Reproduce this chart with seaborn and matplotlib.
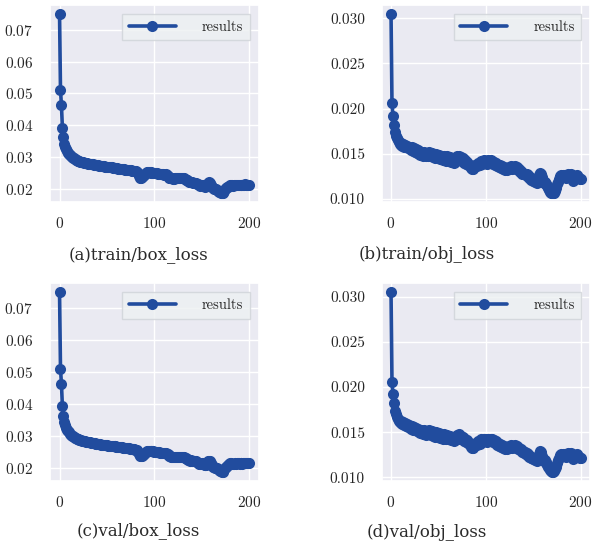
import numpy as np
import pandas as pd
import seaborn as sns
import matplotlib.pyplot as plt

# epochs 0..200
epochs = list(range(201))

box_loss = [
    0.0750, 0.0510, 0.0463, 0.0393, 0.0362, 0.0342, 0.0333, 0.0325, 0.0319, 0.0314,
    0.0310, 0.0306, 0.0303, 0.0300, 0.0298, 0.0296, 0.0294, 0.0292, 0.0291, 0.0289,
    0.0288, 0.0287, 0.0286, 0.0285, 0.0284, 0.0284, 0.0283, 0.0282, 0.0281, 0.0281,
    0.0280, 0.0279, 0.0279, 0.0278, 0.0277, 0.0277, 0.0276, 0.0276, 0.0275, 0.0275,
    0.0274, 0.0274, 0.0273, 0.0273, 0.0272, 0.0272, 0.0271, 0.0271, 0.0270, 0.0270,
    0.0270, 0.0269, 0.0269, 0.0268, 0.0268, 0.0268, 0.0267, 0.0267, 0.0266, 0.0266,
    0.0265, 0.0265, 0.0264, 0.0264, 0.0263, 0.0263, 0.0263, 0.0262, 0.0262, 0.0261,
    0.0261, 0.0260, 0.0260, 0.0260, 0.0259, 0.0259, 0.0258, 0.0258, 0.0257, 0.0257,
    0.0256, 0.0256, 0.0254, 0.0250, 0.0242, 0.0236, 0.0235, 0.0237, 0.0240, 0.0243,
    0.0247, 0.0250, 0.0252, 0.0253, 0.0253, 0.0252, 0.0252, 0.0251, 0.0251, 0.0251,
    0.0250, 0.0250, 0.0249, 0.0249, 0.0248, 0.0248, 0.0247, 0.0247, 0.0246, 0.0246,
    0.0245, 0.0245, 0.0246, 0.0244, 0.0241, 0.0238, 0.0236, 0.0235, 0.0234, 0.0233,
    0.0232, 0.0232, 0.0233, 0.0234, 0.0234, 0.0233, 0.0234, 0.0234, 0.0233, 0.0233,
    0.0234, 0.0233, 0.0231, 0.0229, 0.0228, 0.0227, 0.0225, 0.0223, 0.0222, 0.0223,
    0.0222, 0.0220, 0.0219, 0.0220, 0.0219, 0.0217, 0.0215, 0.0212, 0.0210, 0.0211,
    0.0213, 0.0214, 0.0212, 0.0209, 0.0207, 0.0208, 0.0212, 0.0219, 0.0222, 0.0220,
    0.0214, 0.0207, 0.0203, 0.0201, 0.0200, 0.0199, 0.0198, 0.0194, 0.0191, 0.0189,
    0.0188, 0.0187, 0.0186, 0.0189, 0.0195, 0.0200, 0.0202, 0.0205, 0.0207, 0.0210,
    0.0213, 0.0214, 0.0212, 0.0210, 0.0211, 0.0213, 0.0212, 0.0213, 0.0214, 0.0213,
    0.0212, 0.0214, 0.0213, 0.0212, 0.0214, 0.0213, 0.0215, 0.0214, 0.0213, 0.0214,
    0.0213,
]

obj_loss = [
    0.0305, 0.0206, 0.0192, 0.0182, 0.0174, 0.0170, 0.0167, 0.0165, 0.0163, 0.0161,
    0.0160, 0.0162, 0.0159, 0.0161, 0.0158, 0.0160, 0.0157, 0.0159, 0.0156, 0.0158,
    0.0156, 0.0154, 0.0157, 0.0153, 0.0156, 0.0152, 0.0155, 0.0151, 0.0154, 0.0150,
    0.0153, 0.0149, 0.0152, 0.0151, 0.0148, 0.0152, 0.0150, 0.0147, 0.0151, 0.0148,
    0.0152, 0.0148, 0.0147, 0.0151, 0.0146, 0.0149, 0.0145, 0.0150, 0.0146, 0.0149,
    0.0145, 0.0149, 0.0144, 0.0148, 0.0146, 0.0143, 0.0148, 0.0144, 0.0142, 0.0147,
    0.0143, 0.0142, 0.0146, 0.0141, 0.0145, 0.0142, 0.0140, 0.0144, 0.0141, 0.0145,
    0.0147, 0.0144, 0.0148, 0.0143, 0.0146, 0.0142, 0.0145, 0.0140, 0.0143, 0.0139,
    0.0141, 0.0138, 0.0137, 0.0138, 0.0134, 0.0133, 0.0135, 0.0133, 0.0136, 0.0137,
    0.0138, 0.0136, 0.0140, 0.0139, 0.0137, 0.0142, 0.0139, 0.0141, 0.0143, 0.0140,
    0.0142, 0.0139, 0.0143, 0.0140, 0.0141, 0.0143, 0.0140, 0.0142, 0.0139, 0.0141,
    0.0138, 0.0140, 0.0136, 0.0138, 0.0135, 0.0137, 0.0134, 0.0136, 0.0133, 0.0135,
    0.0132, 0.0134, 0.0132, 0.0134, 0.0133, 0.0135, 0.0134, 0.0136, 0.0133, 0.0135,
    0.0134, 0.0136, 0.0133, 0.0135, 0.0132, 0.0133, 0.0130, 0.0131, 0.0128, 0.0129,
    0.0127, 0.0128, 0.0126, 0.0127, 0.0125, 0.0126, 0.0123, 0.0124, 0.0121, 0.0122,
    0.0120, 0.0121, 0.0119, 0.0120, 0.0118, 0.0121, 0.0126, 0.0129, 0.0128, 0.0124,
    0.0120, 0.0118, 0.0119, 0.0117, 0.0116, 0.0114, 0.0112, 0.0110, 0.0108, 0.0107,
    0.0106, 0.0106, 0.0107, 0.0109, 0.0112, 0.0116, 0.0119, 0.0122, 0.0125, 0.0126,
    0.0125, 0.0126, 0.0124, 0.0126, 0.0125, 0.0123, 0.0125, 0.0127, 0.0126, 0.0124,
    0.0127, 0.0126, 0.0120, 0.0122, 0.0125, 0.0124, 0.0126, 0.0124, 0.0123, 0.0122,
    0.0122,
]

captions = ['(a)train/box_loss', '(b)train/obj_loss', '(c)val/box_loss', '(d)val/obj_loss']
panel_data = [box_loss, obj_loss, box_loss, obj_loss]

sns.set_theme(style='darkgrid')
plt.rcParams['font.family'] = ['cmr10', 'DejaVu Serif']
plt.rcParams['axes.formatter.use_mathtext'] = True

line_color = '#214c9e'

fig, axes = plt.subplots(2, 2, figsize=(5.96, 5.41), dpi=100)
plt.subplots_adjust(left=0.084, right=0.99, top=0.991, bottom=0.111, wspace=0.59, hspace=0.41)

for ax, values in zip(axes.flat, panel_data):
    df = pd.DataFrame({'epoch': epochs, 'value': values})
    sns.lineplot(data=df, x='epoch', y='value', marker='o', color=line_color,
                 linewidth=2.6, markersize=8, markeredgewidth=0,
                 label='results', ax=ax)
    ax.set_xlabel('')
    ax.set_ylabel('')
    ax.set_xticks([0, 100, 200])
    ax.tick_params(axis='both', labelsize=11)
    ax.tick_params(axis='y', pad=6)
    ax.tick_params(axis='x', pad=4)
    leg = ax.legend(loc='upper right', fontsize=10.5, handlelength=3.2,
                    handletextpad=1.8, borderpad=0.45, borderaxespad=0.6,
                    fancybox=False)
    leg.get_frame().set_facecolor('#edf1f2')
    leg.get_frame().set_edgecolor('#cfd3d8')

axes[0, 0].set_yticks([0.02, 0.03, 0.04, 0.05, 0.06, 0.07])
axes[1, 0].set_yticks([0.02, 0.03, 0.04, 0.05, 0.06, 0.07])
for ax in [axes[0, 1], axes[1, 1]]:
    ax.set_yticks([0.010, 0.015, 0.020, 0.025, 0.030])
    ax.set_yticklabels(['0.010', '0.015', '0.020', '0.025', '0.030'])

# captions under each panel
cap_pos = [(0.232, 0.529), (0.716, 0.529), (0.232, 0.020), (0.716, 0.016)]
for (cx, cy), text in zip(cap_pos, captions):
    fig.text(cx, cy, text, ha='center', va='center', fontsize=12,
             family='DejaVu Serif', color='#2a2a2a')

plt.savefig('out.png', dpi=100)
